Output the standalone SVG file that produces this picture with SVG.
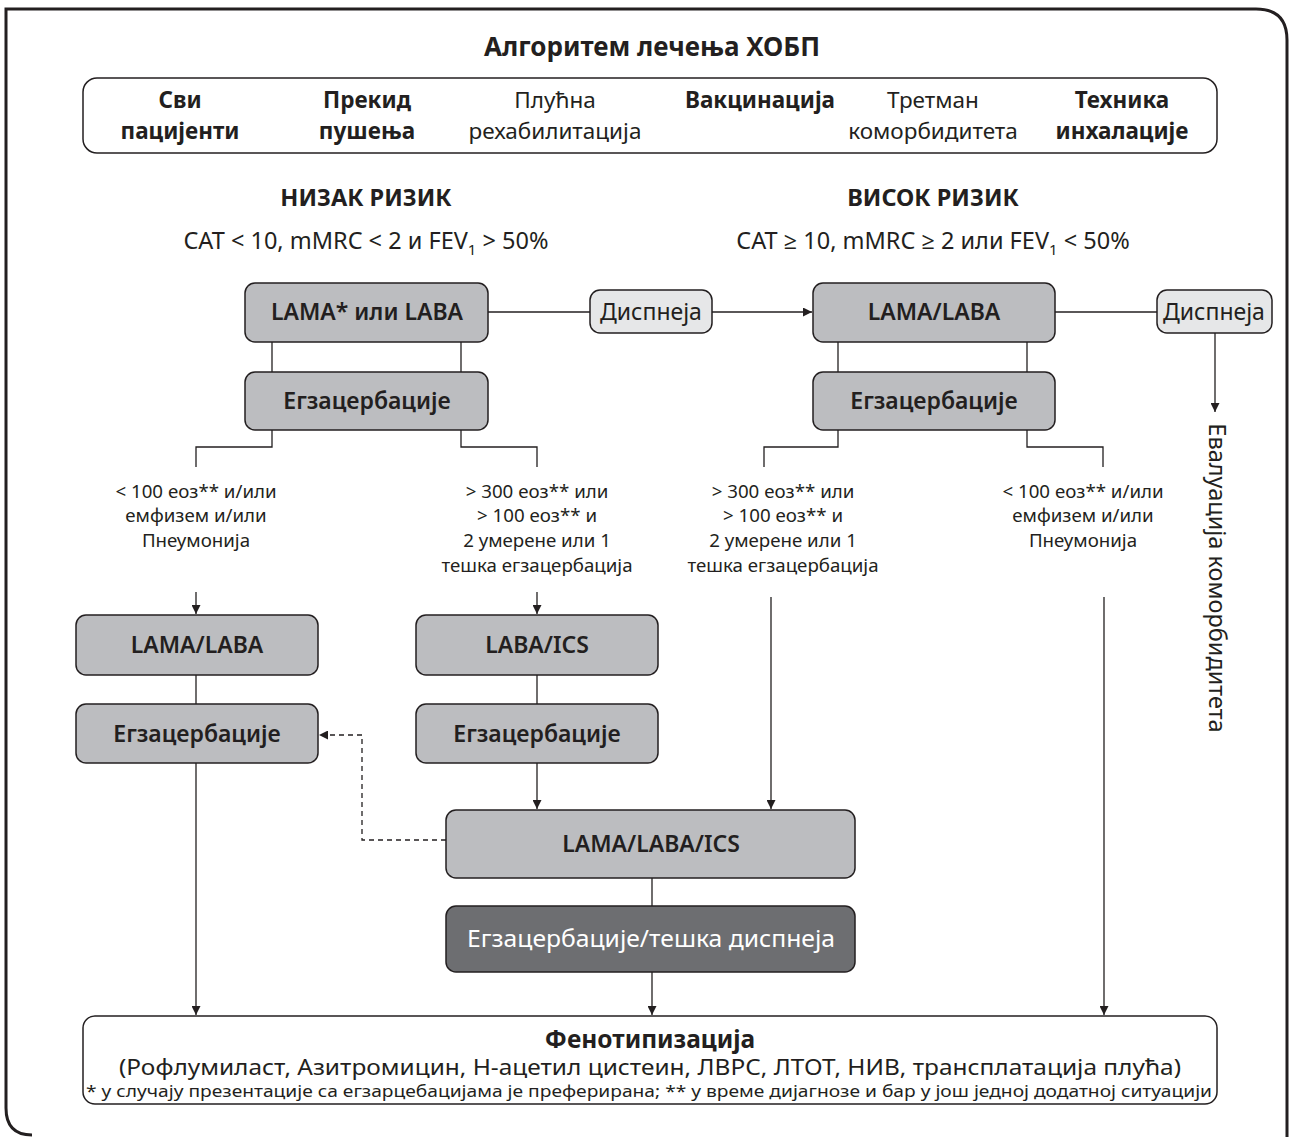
<svg xmlns="http://www.w3.org/2000/svg" width="1290" height="1137" viewBox="0 0 1290 1137">
<style>
text{font-family:"Noto Sans","Open Sans",sans-serif;fill:#231f20;text-anchor:middle}
.b{font-weight:700}
.sb{font-weight:600;font-size:23px}
.hdr{font-size:23.5px}
.top{font-size:22.5px}
.cond{font-size:18.7px}
.box{fill:#bcbdc0;stroke:#231f20;stroke-width:1.5}
.lite{fill:#e6e7e8;stroke:#231f20;stroke-width:1.5}
.dark{fill:#6d6e71;stroke:#231f20;stroke-width:1.5}
.wb{fill:#fff;stroke:#231f20;stroke-width:1.5}
.c{fill:none;stroke:#231f20;stroke-width:1.3}
.d{stroke-dasharray:5 4}
</style>
<defs>
<marker id="ah" viewBox="0 0 10 10" refX="10" refY="5" markerWidth="9" markerHeight="9" markerUnits="userSpaceOnUse" orient="auto">
<path d="M0 0 L10 5 L0 10 Z" fill="#231f20"/>
</marker>
</defs>
<rect width="1290" height="1137" fill="#fff"/>
<path d="M1287 1140 V40 Q1287 9 1256 9 H6 V1108 Q6 1135 32 1135" fill="none" stroke="#231f20" stroke-width="3"/>

<g id="title"><text x="652" y="56" class="b" font-size="26">Алгоритем лечења ХОБП</text></g>

<g id="allpatients">
<rect class="wb" x="83" y="78" width="1134" height="75" rx="14"/>
<text x="180" y="108" class="b top">Сви</text>
<text x="180" y="139" class="b top">пацијенти</text>
<text x="367" y="108" class="b top">Прекид</text>
<text x="367" y="139" class="b top">пушења</text>
<text x="555" y="108" class="top">Плућна</text>
<text x="555" y="139" class="top">рехабилитација</text>
<text x="760" y="108" class="b top">Вакцинација</text>
<text x="933" y="108" class="top">Третман</text>
<text x="933" y="139" class="top">коморбидитета</text>
<text x="1122" y="108" class="b top">Техника</text>
<text x="1122" y="139" class="b top">инхалације</text>
</g>

<g id="lowrisk">
<text x="366" y="206" class="b hdr">НИЗАК РИЗИК</text>
<text x="366" y="249" class="hdr">CAT &lt; 10, mMRC &lt; 2 и FEV<tspan font-size="15" dy="6">1</tspan><tspan dy="-6"> &gt; 50%</tspan></text>
</g>
<g id="highrisk">
<text x="933" y="206" class="b hdr">ВИСОК РИЗИК</text>
<text x="933" y="249" class="hdr">CAT ≥ 10, mMRC ≥ 2 или FEV<tspan font-size="15" dy="6">1</tspan><tspan dy="-6"> &lt; 50%</tspan></text>
</g>

<g id="connectors">
<line class="c" x1="488" y1="312" x2="590" y2="312"/>
<line class="c" x1="712" y1="312" x2="812" y2="312" marker-end="url(#ah)"/>
<line class="c" x1="1055" y1="312" x2="1157" y2="312"/>
<line class="c" x1="1215" y1="333" x2="1215" y2="412" marker-end="url(#ah)"/>
<line class="c" x1="272" y1="342" x2="272" y2="372"/>
<line class="c" x1="461" y1="342" x2="461" y2="372"/>
<line class="c" x1="838" y1="342" x2="838" y2="372"/>
<line class="c" x1="1027" y1="342" x2="1027" y2="372"/>
<path class="c" d="M272 430 V447 H196 V467"/>
<path class="c" d="M461 430 V447 H537 V467"/>
<path class="c" d="M838 430 V447 H764 V467"/>
<path class="c" d="M1027 430 V447 H1103 V467"/>
<line class="c" x1="196" y1="592" x2="196" y2="614" marker-end="url(#ah)"/>
<line class="c" x1="537" y1="592" x2="537" y2="614" marker-end="url(#ah)"/>
<line class="c" x1="771" y1="597" x2="771" y2="809" marker-end="url(#ah)"/>
<line class="c" x1="1104" y1="597" x2="1104" y2="1015" marker-end="url(#ah)"/>
<line class="c" x1="196" y1="675" x2="196" y2="704"/>
<line class="c" x1="537" y1="675" x2="537" y2="704"/>
<line class="c" x1="196" y1="763" x2="196" y2="1015" marker-end="url(#ah)"/>
<line class="c" x1="537" y1="763" x2="537" y2="809" marker-end="url(#ah)"/>
<path class="c d" d="M446 840 H362 V735 H319" marker-end="url(#ah)"/>
<line class="c" x1="652" y1="878" x2="652" y2="906"/>
<line class="c" x1="652" y1="972" x2="652" y2="1015" marker-end="url(#ah)"/>
</g>

<g id="n-lama-or-laba"><rect class="box" x="245" y="283" width="243" height="59" rx="10"/><text x="367" y="320" class="sb">LAMA* или LABA</text></g>
<g id="n-egz-low"><rect class="box" x="245" y="372" width="243" height="58" rx="10"/><text x="367" y="409" class="sb">Егзацербације</text></g>
<g id="n-dysp1"><rect class="lite" x="590" y="290" width="122" height="43" rx="10"/><text x="651" y="320" font-size="23">Диспнеја</text></g>
<g id="n-lama-laba-high"><rect class="box" x="813" y="283" width="242" height="59" rx="10"/><text x="934" y="320" class="sb">LAMA/LABA</text></g>
<g id="n-egz-high"><rect class="box" x="813" y="372" width="242" height="58" rx="10"/><text x="934" y="409" class="sb">Егзацербације</text></g>
<g id="n-dysp2"><rect class="lite" x="1157" y="290" width="115" height="43" rx="10"/><text x="1214" y="320" font-size="23">Диспнеја</text></g>
<g id="n-eval"><text x="0" y="0" font-size="23.5" transform="translate(1209 578) rotate(90)">Евалуација коморбидитета</text></g>

<g id="cond-low-left">
<text x="196" y="498" class="cond">&lt; 100 еоз** и/или</text>
<text x="196" y="522" class="cond">емфизем и/или</text>
<text x="196" y="547" class="cond">Пнеумонија</text>
</g>
<g id="cond-low-right">
<text x="537" y="498" class="cond">&gt; 300 еоз** или</text>
<text x="537" y="522" class="cond">&gt; 100 еоз** и</text>
<text x="537" y="547" class="cond">2 умерене или 1</text>
<text x="537" y="572" class="cond">тешка егзацербација</text>
</g>
<g id="cond-high-left">
<text x="783" y="498" class="cond">&gt; 300 еоз** или</text>
<text x="783" y="522" class="cond">&gt; 100 еоз** и</text>
<text x="783" y="547" class="cond">2 умерене или 1</text>
<text x="783" y="572" class="cond">тешка егзацербација</text>
</g>
<g id="cond-high-right">
<text x="1083" y="498" class="cond">&lt; 100 еоз** и/или</text>
<text x="1083" y="522" class="cond">емфизем и/или</text>
<text x="1083" y="547" class="cond">Пнеумонија</text>
</g>

<g id="n-lama-laba-low"><rect class="box" x="76" y="615" width="242" height="60" rx="10"/><text x="197" y="653" class="sb">LAMA/LABA</text></g>
<g id="n-laba-ics"><rect class="box" x="416" y="615" width="242" height="60" rx="10"/><text x="537" y="653" class="sb">LABA/ICS</text></g>
<g id="n-egz-ll"><rect class="box" x="76" y="704" width="242" height="59" rx="10"/><text x="197" y="742" class="sb">Егзацербације</text></g>
<g id="n-egz-lr"><rect class="box" x="416" y="704" width="242" height="59" rx="10"/><text x="537" y="742" class="sb">Егзацербације</text></g>
<g id="n-triple"><rect class="box" x="446" y="810" width="409" height="68" rx="10"/><text x="651" y="852" class="sb">LAMA/LABA/ICS</text></g>
<g id="n-severe"><rect class="dark" x="446" y="906" width="409" height="66" rx="10"/><text x="651" y="947" font-size="24" textLength="368" lengthAdjust="spacingAndGlyphs" style="fill:#fff">Егзацербације/тешка диспнеја</text></g>

<g id="n-pheno">
<rect class="wb" x="83" y="1016" width="1134" height="88" rx="12"/>
<text x="650" y="1048" class="b" font-size="24.5">Фенотипизација</text>
<text x="650" y="1075" font-size="21" textLength="1062" lengthAdjust="spacingAndGlyphs">(Рофлумиласт, Азитромицин, Н-ацетил цистеин, ЛВРС, ЛТОТ, НИВ, трансплатација плућа)</text>
<text x="649" y="1097" font-size="16" textLength="1126" lengthAdjust="spacingAndGlyphs">* у случају презентације са егзарцебацијама је преферирана; ** у време дијагнозе и бар у још једној додатној ситуацији</text>
</g>
</svg>
